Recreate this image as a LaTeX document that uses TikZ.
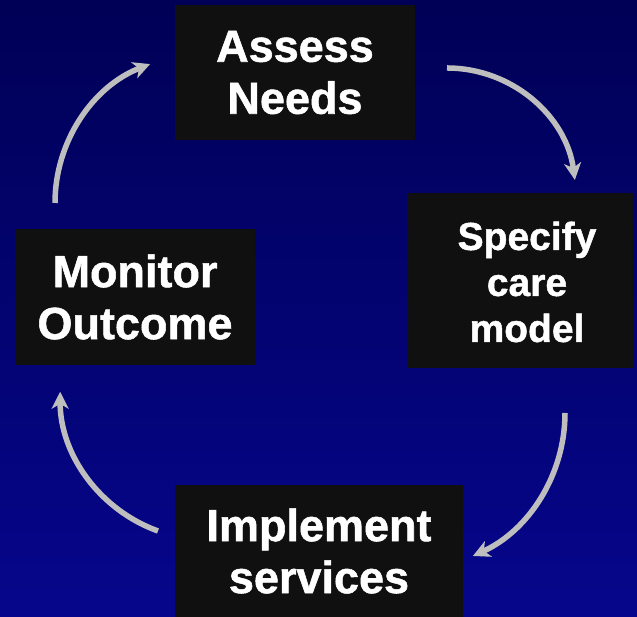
\documentclass[tikz,border=0pt]{standalone}
\usepackage{fontspec}
\setmainfont{Liberation Sans}[BoldFeatures={FakeBold=1.2}]
\usetikzlibrary{arrows.meta}
\definecolor{bgtop}{RGB}{0,0,86}
\definecolor{bgbot}{RGB}{6,6,140}
\definecolor{boxfill}{RGB}{16,16,16}
\definecolor{arrowgray}{RGB}{190,190,190}
\begin{document}
\begin{tikzpicture}[x=1pt,y=1pt,
  stagebox/.style={fill=boxfill, draw=none, inner sep=0pt, text=white,
    font=\bfseries\fontsize{45}{52}\selectfont, align=center},
  stagetext/.style={inner sep=0pt, text=white,
    font=\bfseries\fontsize{39}{46}\selectfont, align=center},
  flow/.style={draw=arrowgray, line width=5.5pt,
    -{Stealth[length=17pt,width=17pt,inset=5pt]}}]
\shade[top color=bgtop, bottom color=bgbot] (0,0) rectangle (637,617);
\useasboundingbox (0,0) rectangle (637,617);

\node[stagebox, minimum width=240pt, minimum height=135pt] (assess) at (295,544.5) {Assess\\Needs};
\node[stagebox, minimum width=226pt, minimum height=175pt] (specify) at (520,336.5) {};
\node[stagetext] (specifytxt) at (527,335) {Specify\\care\\model};
\node[stagebox, minimum width=240pt, minimum height=136pt] (monitor) at (135,320) {Monitor\\Outcome};
\node[stagebox, minimum width=288pt, minimum height=132pt] (implement) at (319,66) {Implement\\services};

\coordinate (s1) at (55,414);
\coordinate (s2) at (447,549);
\coordinate (s3) at (565,204);
\coordinate (s4) at (158,86);
\draw[flow] (s1) arc[start angle=180, end angle=111.2, radius=149];
\draw[flow] (s2) arc[start angle=90, end angle=7.6, radius=129];
\draw[flow] (s3) arc[start angle=0, end angle=-65.6, radius=157];
\draw[flow] (s4) arc[start angle=250.2, end angle=180, radius=148];
\end{tikzpicture}
\end{document}
